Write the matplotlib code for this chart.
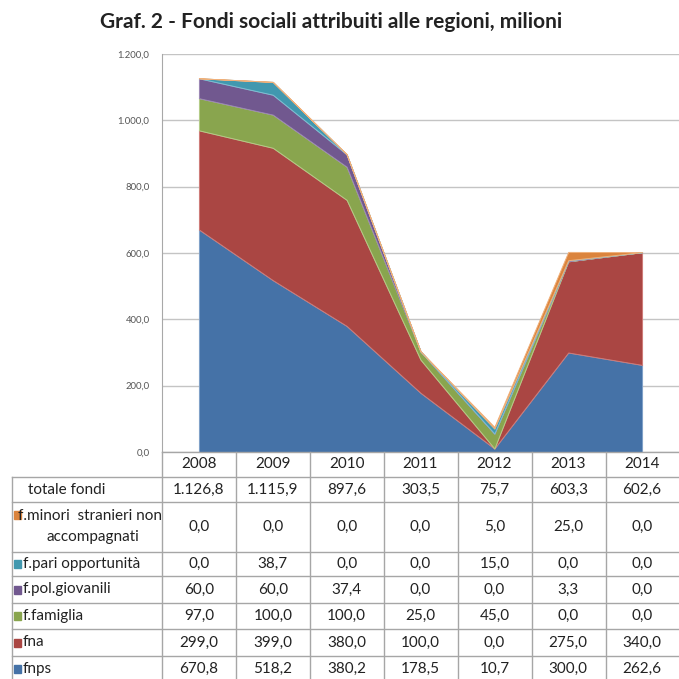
import matplotlib
matplotlib.use("Agg")
import matplotlib.pyplot as plt
import matplotlib.transforms as mtransforms
import numpy as np

years = ["2008", "2009", "2010", "2011", "2012", "2013", "2014"]
fnps = [670.8, 518.2, 380.2, 178.5, 10.7, 300.0, 262.6]
fna = [299.0, 399.0, 380.0, 100.0, 0.0, 275.0, 340.0]
famiglia = [97.0, 100.0, 100.0, 25.0, 45.0, 0.0, 0.0]
giovanili = [60.0, 60.0, 37.4, 0.0, 0.0, 3.3, 0.0]
pari_opp = [0.0, 38.7, 0.0, 0.0, 15.0, 0.0, 0.0]
minori = [0.0, 0.0, 0.0, 0.0, 5.0, 25.0, 0.0]
totale = [1126.8, 1115.9, 897.6, 303.5, 75.7, 603.3, 602.6]

series_labels = ["fnps", "fna", "f.famiglia", "f.pol.giovanili",
                 "f.pari opportunità", "f.minori  stranieri non\naccompagnati"]
colors = ["#4572A7", "#AA4643", "#89A54E", "#71588F", "#4198AF", "#DB843D"]
edges = ["#7fa0c8", "#cf7a77", "#b3cc86", "#9b86b5", "#7cc0d2", "#f0b07a"]

FONT = ["Lato", "DejaVu Sans"]
plt.rcParams["font.family"] = FONT


def it_fmt(v):
    s = f"{v:,.1f}"
    return s.replace(",", "X").replace(".", ",").replace("X", ".")


W = H = 679
fig = plt.figure(figsize=(W / 100, H / 100), dpi=100)

# main area chart
ax = fig.add_axes([162 / W, 1 - 452 / H, 1 - 162 / W, (452 - 54) / H])
x = np.arange(len(years))
stack = [fnps, fna, famiglia, giovanili, pari_opp, minori]
polys = ax.stackplot(x, *stack, colors=colors, zorder=3)
for p, ec in zip(polys, edges):
    p.set_edgecolor(ec)
    p.set_linewidth(0.7)

ax.set_xlim(-0.5, len(years) - 0.5)
ax.set_ylim(0, 1200)
ax.set_yticks(np.arange(0, 1201, 200))
ax.set_yticklabels([it_fmt(v) for v in np.arange(0, 1201, 200)],
                   fontsize=6.8, color="#555555")
ax.set_xticks([])
ax.tick_params(axis="y", length=0, pad=9)
ax.yaxis.grid(True, color="#c4c4c4", linewidth=1.0, zorder=0)
for side in ["top", "right", "bottom"]:
    ax.spines[side].set_visible(False)
ax.spines["left"].set_color("#a8a8a8")

fig.text(331 / W, 1 - 22 / H,
         "Graf. 2 - Fondi sociali attribuiti alle regioni, milioni",
         ha="center", va="center", fontsize=15, fontweight="bold",
         color="#222222")

# data table under the chart, in pixel coordinates
tax = fig.add_axes([0, 0, 1, 1])
tax.set_xlim(0, W)
tax.set_ylim(H, 0)
tax.axis("off")
trans = mtransforms.blended_transform_factory(ax.transData, tax.transData)

rows = [452, 477, 502, 552, 576, 603, 629, 656, 681]
col_edges = [162 + 74 * k for k in range(8)]
line_c = "#a6a6a6"

for yb in rows[1:]:
    tax.plot([12, W], [yb, yb], color=line_c, lw=1.0, clip_on=False)
tax.plot([162, W], [rows[0], rows[0]], color=line_c, lw=1.0)
for xe in col_edges:
    tax.plot([xe, xe], [rows[0], H], color=line_c, lw=1.0)
tax.plot([12, 12], [rows[1], H], color=line_c, lw=1.0)

txt_kw = dict(fontsize=11, color="#222222", va="center")

# header row and total row
for i, yr in enumerate(years):
    tax.text(i, (rows[0] + rows[1]) / 2, yr, ha="center", transform=trans, **txt_kw)
    tax.text(i, (rows[1] + rows[2]) / 2, it_fmt(totale[i]), ha="center",
             transform=trans, **txt_kw)
tax.text(28, (rows[1] + rows[2]) / 2, "totale fondi", ha="left", **txt_kw)

# series rows, top to bottom in the table
table_order = [5, 4, 3, 2, 1, 0]
for r, si in enumerate(table_order):
    y0, y1 = rows[2 + r], rows[3 + r]
    yc = (y0 + y1) / 2
    vals = stack[si]
    for i, v in enumerate(vals):
        tax.text(i, yc, it_fmt(v), ha="center", transform=trans, **txt_kw)
    if si == 5:
        tax.add_patch(plt.Rectangle((14, yc - 16), 7, 8, color=colors[si]))
        tax.text(90, yc - 11, "f.minori  stranieri non", ha="center", **txt_kw)
        tax.text(93, yc + 10, "accompagnati", ha="center", **txt_kw)
    else:
        tax.add_patch(plt.Rectangle((14, yc - 4), 7, 8, color=colors[si]))
        tax.text(23, yc, series_labels[si], ha="left", **txt_kw)

fig.savefig("out.png", dpi=100)
